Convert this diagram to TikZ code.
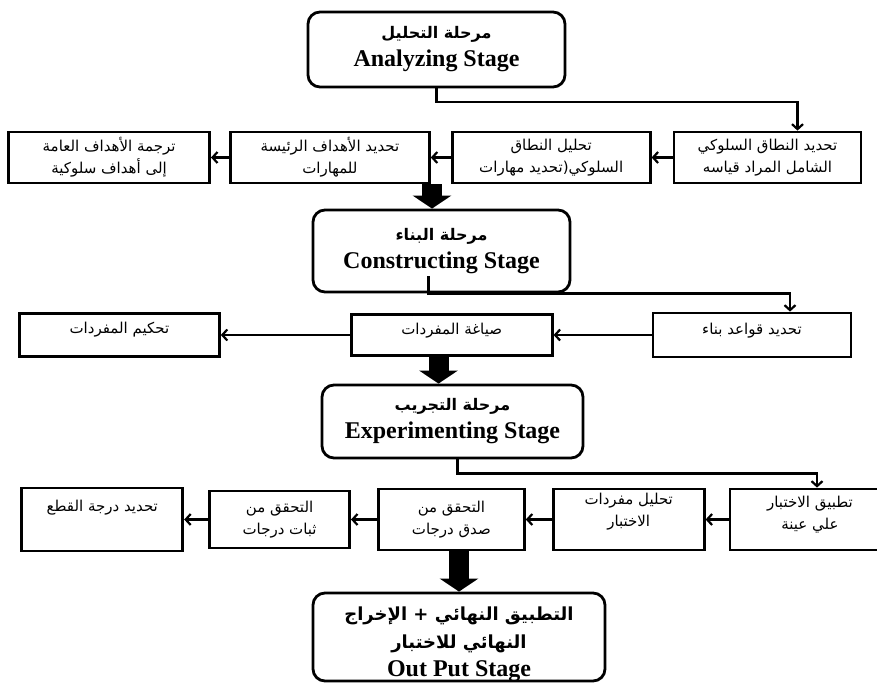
\documentclass[tikz,border=0pt]{standalone}
\usepackage{fontspec}
\setmainfont{Liberation Serif}
\newfontfamily\arabicfont[Script=Arabic]{DejaVu Sans}
\TeXXeTstate=1
\usepackage{tikz}
\usetikzlibrary{positioning}
\usetikzlibrary{arrows.meta}
\newcommand{\artext}[1]{{\arabicfont\beginR #1\endR}}
\newcommand{\arhead}[1]{{\arabicfont\fontsize{16}{28}\selectfont\beginR #1\endR}}
\newcommand{\arfinal}[1]{{\arabicfont\fontsize{18}{28}\selectfont\beginR #1\endR}}

\begin{document}
\begin{tikzpicture}[x=1pt, y=-1pt,
stagenode/.style={rectangle, draw, rounded corners=12pt, line width=2.8pt, align=center, font=\fontsize{24}{28}\selectfont\bfseries},
stepnode/.style={rectangle, draw, line width=2.8pt, minimum height=51pt, align=center, font=\fontsize{15}{22}\selectfont},
conn/.style={-{Straight Barb[length=5pt,width=11pt]}, line width=2.2pt},
bigarrow/.style={-{Triangle[width=38pt,length=13pt]}, line width=20pt},
]
\useasboundingbox (0,0) rectangle (877,690);
%Nodes
\node[stagenode, minimum width=257pt, minimum height=75pt]	(analyze)	at (436.5,49.5)		{\arhead{مرحلة التحليل}\\Analyzing Stage};
\node[stepnode, minimum width=187pt]		(scope)		at (767.5,157.5)			{\artext{تحديد النطاق السلوكي}\\\artext{الشامل المراد قياسه}};
\node[stepnode, minimum width=198pt]		(skills)	[left=21pt of scope]		{\artext{تحليل النطاق}\\\artext{السلوكي(تحديد مهارات}};
\node[stepnode, minimum width=199pt]		(mainobj)	[left=20pt of skills]		{\artext{تحديد الأهداف الرئيسة}\\\artext{للمهارات}};
\node[stepnode, minimum width=201pt]		(behobj)	[left=18pt of mainobj]		{\artext{ترجمة الأهداف العامة}\\\artext{إلى أهداف سلوكية}};

\node[stagenode, minimum width=257pt, minimum height=82pt]	(construct)	at (441.5,251)		{\arhead{مرحلة البناء}\\Constructing Stage};
\node[stepnode, minimum width=198pt, minimum height=44pt, text depth=12pt]	(rules)		at (752,335)	{\artext{تحديد قواعد بناء}};
\node[stepnode, minimum width=201pt, minimum height=41pt, text depth=13pt]	(items)		[left=98pt of rules]	{\artext{صياغة المفردات}};
\node[stepnode, minimum width=200pt, minimum height=43pt, text depth=15pt]	(review)	[left=129pt of items]	{\artext{تحكيم المفردات}};

\node[stagenode, minimum width=261pt, minimum height=73pt]	(experiment)	at (452.5,421.5)	{\arhead{مرحلة التجريب}\\Experimenting Stage};
\node[stepnode, minimum width=160pt, minimum height=61pt, text depth=13pt]	(sample)	at (810,519.5)	{\artext{تطبيق الاختبار}\\\artext{علي عينة}};
\node[stepnode, minimum width=151pt, minimum height=61pt, text depth=19pt]	(itemanalysis)	[left=23pt of sample]	{\artext{تحليل مفردات}\\\artext{الاختبار}};
\node[stepnode, minimum width=146pt, minimum height=61pt]	(validity)	[left=26pt of itemanalysis]	{\artext{التحقق من}\\\artext{صدق درجات}};
\node[stepnode, minimum width=140pt, minimum height=57pt]	(reliability)	[left=26pt of validity]	{\artext{التحقق من}\\\artext{ثبات درجات}};
\node[stepnode, minimum width=161pt, minimum height=63pt, text depth=27pt]	(cutoff)	[left=24pt of reliability]	{\artext{تحديد درجة القطع}};

\node[stagenode, minimum width=292pt, minimum height=88pt, inner ysep=0pt, text height=83pt, text depth=5pt]	(output)	at (459,637)	{\arfinal{التطبيق النهائي + الإخراج}\\\arfinal{النهائي للاختبار}\\Out Put Stage};

\coordinate (bigA) at ([xshift=-9.5pt]construct.north);
\coordinate (bigB) at ([xshift=-14pt]experiment.north);

%Lines
\draw[conn] (analyze.south) -- ++(0,14) -| ([xshift=30pt]scope.north);
\draw[conn] (scope.west) -- (skills.east);
\draw[conn] (skills.west) -- (mainobj.east);
\draw[conn] (mainobj.west) -- (behobj.east);
\draw[bigarrow] (bigA |- mainobj.south) -- (bigA);

\draw[conn] ([xshift=-13pt,yshift=17pt]construct.south) -- ([xshift=-13pt]construct.south) -| ([xshift=38pt]rules.north);
\draw[conn] (rules.west) -- (items.east);
\draw[conn] (items.west) -- (review.east);
\draw[bigarrow] (bigB |- items.south) -- (bigB);

\draw[conn] ([xshift=5pt]experiment.south) -- ++(0,14) -| ([xshift=7pt]sample.north);
\draw[conn] (sample.west) -- (itemanalysis.east);
\draw[conn] (itemanalysis.west) -- (validity.east);
\draw[conn] (validity.west) -- (reliability.east);
\draw[conn] (reliability.west) -- (cutoff.east);
\draw[bigarrow] (output.north |- validity.south) -- (output.north);
\end{tikzpicture}
\end{document}
